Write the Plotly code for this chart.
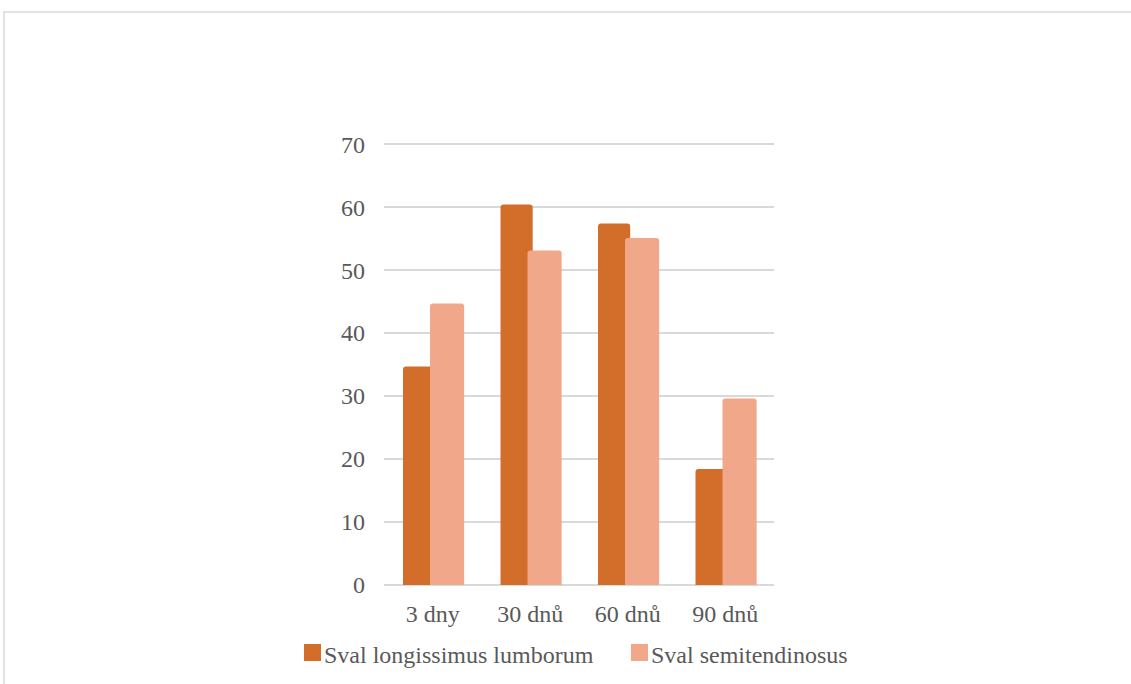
import plotly.graph_objects as go

# Category labels and measured values for each muscle
categories = ["3 dny", "30 dnů", "60 dnů", "90 dnů"]
longissimus = [34.7, 60.4, 57.4, 18.4]
semitendinosus = [44.7, 53.1, 55.1, 29.6]
y_ticks = [0, 10, 20, 30, 40, 50, 60, 70]
series_names = ["Sval longissimus lumborum", "Sval semitendinosus"]
series_colors = ["#D26E2A", "#F1A78A"]

W, H = 1131, 684
L, R, T, B = 384, 357, 141, 99
pw, ph = W - L - R, H - T - B


def px_x(x):
    return (x - L) / pw


def px_y(y):
    return (H - B - y) / ph


text_color = "#595959"
font = dict(family="Liberation Serif, Times New Roman, serif", size=24, color=text_color)

fig = go.Figure()
fig.add_trace(go.Bar(
    x=categories, y=longissimus, name=series_names[0],
    width=0.33, offset=-0.305,
    marker=dict(color=series_colors[0], line=dict(width=0), cornerradius=3),
))
fig.add_trace(go.Bar(
    x=categories, y=semitendinosus, name=series_names[1],
    width=0.35, offset=-0.028,
    marker=dict(color=series_colors[1], line=dict(width=0), cornerradius=3),
))

# light frame around the chart area
fig.add_shape(
    type="rect", xref="paper", yref="paper", layer="below",
    x0=px_x(4), x1=px_x(W + 5), y0=px_y(H + 5), y1=px_y(12),
    line=dict(color="#D9D9D9", width=1.5), fillcolor="rgba(0,0,0,0)",
)

# legend: colour swatch followed by series name
legend_x = [304, 631]
for name, color, x0 in zip(series_names, series_colors, legend_x):
    fig.add_shape(
        type="rect", xref="paper", yref="paper",
        x0=px_x(x0), x1=px_x(x0 + 17), y0=px_y(661), y1=px_y(644),
        line=dict(width=0), fillcolor=color,
    )
    fig.add_annotation(
        text=name, xref="paper", yref="paper", showarrow=False,
        x=px_x(x0 + 18), y=px_y(655), xanchor="left", yanchor="middle",
        font=font,
    )

fig.update_layout(
    width=W, height=H,
    margin=dict(l=L, r=R, t=T, b=B, autoexpand=False),
    paper_bgcolor="white", plot_bgcolor="white",
    barmode="overlay",
    font=font,
    showlegend=False,
    xaxis=dict(
        showgrid=False, showline=False, ticks="", tickfont=font,
        ticklabelstandoff=12,
    ),
    yaxis=dict(
        range=[0, 70.5], tickvals=y_ticks, showgrid=True,
        gridcolor="#D9D9D9", gridwidth=1.5,
        zeroline=True, zerolinecolor="#D9D9D9", zerolinewidth=1.5,
        showline=False, ticks="", tickfont=font, ticklabelstandoff=18,
    ),
)

fig.write_html("out.html")
